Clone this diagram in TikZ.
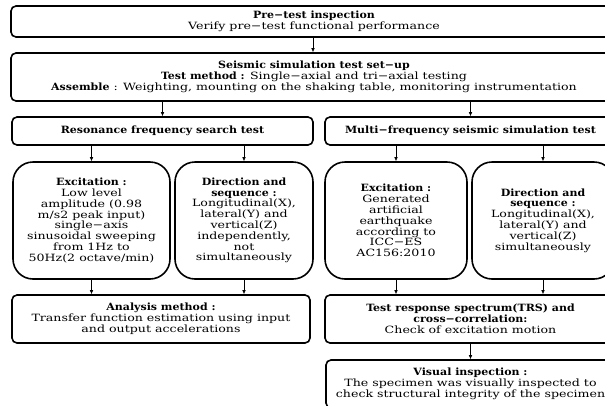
\documentclass[tikz,border=0pt]{standalone}
\usepackage{fontspec}
\setmainfont{DejaVu Serif}[FakeStretch=1.26, BoldFeatures={FakeStretch=1.1}]
\usetikzlibrary{arrows.meta}
\tikzset{
  sqbox/.style={draw, line width=1.6pt, rounded corners=5pt, inner sep=0pt, align=center},
  rbox/.style={draw, line width=1.6pt, rounded corners=20pt, inner sep=0pt, align=center},
  arr/.style={line width=0.6pt, -{Latex[length=4pt,width=3.6pt]}},
}
\begin{document}
\begin{tikzpicture}[x=1pt,y=-1pt,font=\fontsize{10}{10.8}\selectfont]
\useasboundingbox (0,0) rectangle (605,405);
\clip (0,0) rectangle (605,405);
\node[sqbox, minimum width=606pt, minimum height=31pt] (pre) at (314,21.5)
  {\textbf{Pre−test inspection}\\Verify pre−test functional performance};
\node[sqbox, minimum width=606pt, minimum height=48pt] (setup) at (314,77)
  {\textbf{Seismic simulation test set−up}\\\textbf{Test method :} Single−axial and tri−axial testing\\\textbf{Assemble} : Weighting, mounting on the shaking table, monitoring instrumentation};
\node[sqbox, minimum width=301pt, minimum height=28pt] (res) at (162.5,131)
  {\textbf{Resonance frequency search test}};
\node[sqbox, minimum width=291pt, minimum height=28pt] (multi) at (470.5,131)
  {\textbf{Multi−frequency seismic simulation test}};
\node[rbox, minimum width=157pt, minimum height=117pt] (exc1) at (91.5,220.5)
  {\textbf{Excitation :}\\Low level\\amplitude (0.98\\m/s2 peak input)\\single−axis\\sinusoidal sweeping\\from 1Hz to\\50Hz(2 octave/min)};
\node[rbox, minimum width=138pt, minimum height=117pt] (dir1) at (244,220.5)
  {\textbf{Direction and}\\\textbf{sequence :}\\Longitudinal(X),\\lateral(Y) and\\vertical(Z)\\independently,\\not\\simultaneously};
\node[rbox, minimum width=142pt, minimum height=117pt] (exc2) at (396,220.5)
  {\textbf{Excitation :}\\Generated\\artificial\\earthquake\\according to\\ICC−ES\\AC156:2010};
\node[rbox, minimum width=142pt, minimum height=117pt] (dir2) at (543,220.5)
  {\textbf{Direction and}\\\textbf{sequence :}\\Longitudinal(X),\\lateral(Y) and\\vertical(Z)\\simultaneously};
\node[sqbox, minimum width=298pt, minimum height=48pt] (ana) at (161,319)
  {\textbf{Analysis method :}\\Transfer function estimation using input\\and output accelerations};
\node[sqbox, minimum width=291pt, minimum height=48pt] (trs) at (470.5,319)
  {\textbf{Test response spectrum(TRS) and}\\\textbf{cross−correlation:}\\Check of excitation motion};
\node[sqbox, minimum width=289pt, minimum height=48pt] (vis) at (470.5,384)
  {\textbf{Visual inspection :}\\The specimen was visually inspected to\\check structural integrity of the specimen};
\draw[arr] (pre.south -| 313,0) -- (setup.north -| 313,0);
\draw[arr] (setup.south -| res) -- (res);
\draw[arr] (setup.south -| multi) -- (multi);
\draw[arr] (res.south -| exc1) -- (exc1);
\draw[arr] (res.south -| dir1) -- (dir1);
\draw[arr] (multi.south -| exc2) -- (exc2);
\draw[arr] (multi.south -| dir2) -- (dir2);
\draw[arr] (exc1) -- (exc1 |- ana.north);
\draw[arr] (dir1) -- (dir1 |- ana.north);
\draw[arr] (exc2) -- (exc2 |- trs.north);
\draw[arr] (dir2) -- (dir2 |- trs.north);
\draw[arr] (trs) -- (trs |- vis.north);
\end{tikzpicture}
\end{document}
